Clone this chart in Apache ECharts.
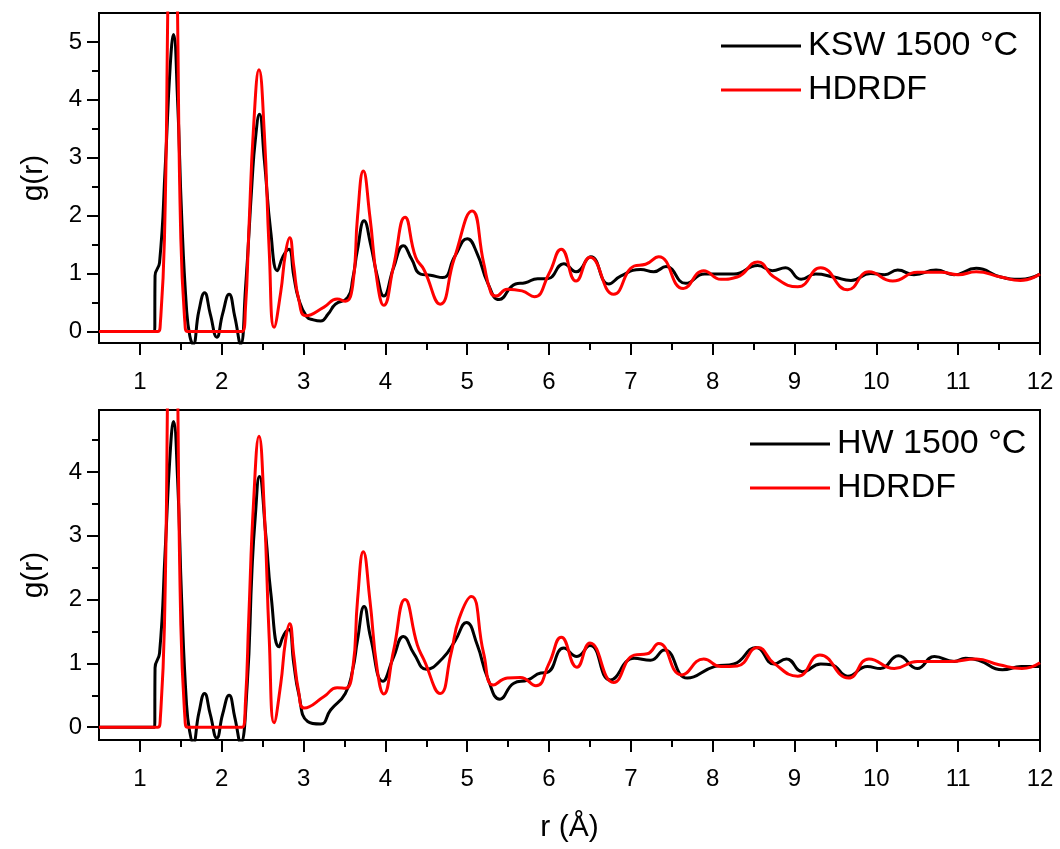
<!DOCTYPE html>
<html>
<head>
<meta charset="utf-8">
<script src="https://cdn.jsdelivr.net/npm/echarts@6/dist/echarts.min.js"></script>
<style>
html,body{margin:0;padding:0;background:#fff;}
#chart{width:1060px;height:849px;}
</style>
</head>
<body>
<div id="chart"></div>
<script>
// ---------- data (r in Å, g(r)) ----------
const xMajorTicks = [1,2,3,4,5,6,7,8,9,10,11,12];
const xMinorTicks = [1.5,2.5,3.5,4.5,5.5,6.5,7.5,8.5,9.5,10.5,11.5];
const yTopMajor = [0,1,2,3,4,5];
const yTopMinor = [0.5,1.5,2.5,3.5,4.5];
const yBotMajor = [0,1,2,3,4];
const yBotMinor = [0.5,1.5,2.5,3.5,4.5];

const topName = 'KSW 1500 °C';
const botName = 'HW 1500 °C';
const refName = 'HDRDF';

const topKSW = [[0.5,0],[1.17,0],[1.18,0],[1.185,0.96],[1.24,1.19],[1.31,2.86],[1.37,4.58],[1.41,5.13],[1.46,4.0],[1.51,2.0],[1.57,0.38],[1.61,-0.08],[1.65,-0.22],[1.72,0.35],[1.79,0.67],[1.86,0.3],[1.94,-0.1],[2.01,0.3],[2.09,0.64],[2.16,0.25],[2.23,-0.22],[2.29,0.73],[2.37,2.57],[2.41,3.3],[2.46,3.75],[2.52,2.97],[2.6,1.71],[2.68,1.05],[2.75,1.3],[2.82,1.42],[2.88,0.96],[2.94,0.56],[3.04,0.25],[3.12,0.2],[3.21,0.18],[3.3,0.3],[3.39,0.47],[3.54,0.59],[3.6,0.9],[3.66,1.42],[3.74,1.91],[3.82,1.5],[3.9,0.96],[3.98,0.61],[4.1,1.1],[4.22,1.48],[4.32,1.25],[4.43,0.99],[4.55,0.97],[4.7,0.93],[4.85,1.3],[5.0,1.6],[5.12,1.35],[5.25,0.84],[5.39,0.55],[5.59,0.82],[5.71,0.84],[5.86,0.91],[5.98,0.91],[6.18,1.17],[6.33,1.03],[6.51,1.29],[6.73,0.82],[6.88,0.96],[7.12,1.07],[7.28,1.03],[7.43,1.12],[7.67,0.83],[7.9,0.99],[8.1,0.99],[8.26,0.99],[8.55,1.14],[8.73,1.05],[8.89,1.10],[9.08,0.9],[9.26,0.99],[9.48,0.94],[9.69,0.88],[9.93,1.0],[10.1,0.98],[10.26,1.06],[10.46,0.98],[10.73,1.06],[10.95,0.98],[11.22,1.09],[11.52,0.94],[11.76,0.9],[12,0.99]];

const topHDRDF = [[0.5,0],[1.22,0],[1.25,0.15],[1.3,1.6],[1.34,5.5],[1.37,9.2],[1.40,11],[1.43,9.2],[1.46,5.5],[1.5,1.6],[1.55,0.15],[1.58,0],[2.25,0],[2.29,0.4],[2.33,1.7],[2.39,3.55],[2.455,4.52],[2.52,3.43],[2.58,1.4],[2.64,0.07],[2.72,0.67],[2.78,1.36],[2.83,1.62],[2.88,1.13],[2.94,0.56],[3.03,0.27],[3.25,0.42],[3.41,0.56],[3.51,0.52],[3.6,0.79],[3.66,1.99],[3.73,2.77],[3.81,1.99],[3.9,0.86],[3.98,0.45],[4.1,1.13],[4.24,1.97],[4.37,1.28],[4.47,1.07],[4.67,0.47],[4.84,1.25],[5.06,2.08],[5.2,1.19],[5.29,0.67],[5.35,0.61],[5.49,0.73],[5.67,0.7],[5.82,0.6],[6.0,1.0],[6.15,1.42],[6.33,0.87],[6.5,1.28],[6.79,0.64],[7.04,1.13],[7.18,1.16],[7.34,1.29],[7.64,0.74],[7.89,1.05],[8.1,0.9],[8.3,0.94],[8.55,1.2],[8.75,0.94],[9.04,0.77],[9.32,1.1],[9.65,0.72],[9.91,1.03],[10.2,0.87],[10.5,1.02],[10.79,1.02],[11.0,0.98],[11.22,1.03],[11.52,0.94],[11.76,0.88],[12,0.99]];

const botHW = [[0.5,0],[1.17,0],[1.18,0],[1.185,0.93],[1.24,1.16],[1.31,2.8],[1.37,4.3],[1.41,4.79],[1.46,3.9],[1.51,2.0],[1.57,0.35],[1.61,-0.08],[1.65,-0.25],[1.72,0.22],[1.79,0.53],[1.86,0.2],[1.94,-0.17],[2.01,0.2],[2.09,0.5],[2.16,0.15],[2.23,-0.25],[2.31,0.64],[2.37,2.47],[2.41,3.3],[2.46,3.93],[2.54,2.99],[2.6,2.1],[2.7,1.26],[2.76,1.45],[2.82,1.53],[2.88,1.0],[2.94,0.53],[3.05,0.09],[3.21,0.05],[3.33,0.27],[3.51,0.53],[3.6,0.9],[3.66,1.37],[3.74,1.89],[3.82,1.4],[3.97,0.72],[4.1,1.1],[4.22,1.42],[4.35,1.15],[4.5,0.91],[4.7,1.08],[4.85,1.35],[4.99,1.64],[5.12,1.3],[5.25,0.77],[5.4,0.44],[5.57,0.69],[5.74,0.74],[5.9,0.85],[5.98,0.86],[6.18,1.24],[6.34,1.11],[6.5,1.28],[6.75,0.74],[7.04,1.08],[7.24,1.05],[7.41,1.21],[7.69,0.77],[8.02,0.95],[8.26,0.99],[8.53,1.25],[8.75,0.99],[8.9,1.07],[9.1,0.87],[9.32,0.99],[9.45,0.98],[9.65,0.8],[9.89,0.95],[10.05,0.92],[10.27,1.12],[10.5,0.92],[10.71,1.11],[10.95,1.03],[11.09,1.08],[11.25,1.05],[11.54,0.9],[11.77,0.95],[12,0.95]];

const botHDRDF = [[0.5,0],[1.22,0],[1.25,0.15],[1.3,1.6],[1.34,5.5],[1.37,9.2],[1.40,11],[1.43,9.2],[1.46,5.5],[1.5,1.6],[1.55,0.15],[1.58,0],[2.25,0],[2.29,0.4],[2.33,1.7],[2.39,3.55],[2.455,4.56],[2.52,3.4],[2.58,1.4],[2.64,0.07],[2.72,0.67],[2.78,1.36],[2.83,1.62],[2.88,1.13],[2.94,0.56],[3.01,0.3],[3.25,0.48],[3.41,0.62],[3.51,0.61],[3.6,0.9],[3.66,2.0],[3.73,2.75],[3.81,2.0],[3.9,0.9],[3.98,0.52],[4.1,1.2],[4.24,2.0],[4.39,1.29],[4.47,1.06],[4.67,0.53],[4.8,1.14],[4.9,1.7],[5.05,2.05],[5.2,1.16],[5.32,0.66],[5.49,0.77],[5.65,0.78],[5.84,0.65],[6.0,1.0],[6.15,1.41],[6.34,0.94],[6.5,1.32],[6.79,0.7],[7.04,1.13],[7.2,1.15],[7.34,1.31],[7.62,0.82],[7.89,1.07],[8.1,0.95],[8.3,0.96],[8.55,1.25],[8.75,1.0],[9.04,0.8],[9.31,1.13],[9.66,0.77],[9.91,1.07],[10.22,0.92],[10.5,1.03],[10.9,1.03],[11.22,1.07],[11.5,0.98],[11.78,0.92],[12,1.01]];

// ---------- chart ----------
const FONT = '"Liberation Sans", Arial, sans-serif';
const chart = echarts.init(document.getElementById('chart'), null, {renderer:'canvas'});

const grids = [
  {left:99, top:13, width:941, height:330},
  {left:99, top:410, width:941, height:330}
];

function xAxes(gi, showName) {
  return [
    { type:'value', gridIndex:gi, min:0.5, max:12, position:'bottom',
      axisLine:{show:true, onZero:false, lineStyle:{color:'#000', width:2}},
      axisTick:{show:true, length:12, customValues:xMajorTicks, lineStyle:{color:'#000', width:2}},
      axisLabel:{show:true, customValues:xMajorTicks, margin:27, color:'#000', fontSize:24, fontFamily:FONT},
      splitLine:{show:false},
      name: showName ? 'r (Å)' : '', nameLocation:'middle', nameGap:73,
      nameTextStyle:{fontSize:30, color:'#000', fontFamily:FONT}
    },
    { type:'value', gridIndex:gi, min:0.5, max:12, position:'bottom',
      axisLine:{show:false, onZero:false},
      axisTick:{show:true, length:7, customValues:xMinorTicks, lineStyle:{color:'#000', width:2}},
      axisLabel:{show:false}, splitLine:{show:false}
    }
  ];
}
function yAxes(gi, min, max, major, minor) {
  return [
    { type:'value', gridIndex:gi, min:min, max:max, position:'left',
      axisLine:{show:true, onZero:false, lineStyle:{color:'#000', width:2}},
      axisTick:{show:true, length:12, customValues:major, lineStyle:{color:'#000', width:2}},
      axisLabel:{show:true, customValues:major, margin:17, color:'#000', fontSize:24, fontFamily:FONT},
      splitLine:{show:false},
      name:'g(r)', nameLocation:'middle', nameGap:50,
      nameTextStyle:{fontSize:30, color:'#000', fontFamily:FONT}
    },
    { type:'value', gridIndex:gi, min:min, max:max, position:'left',
      axisLine:{show:false, onZero:false},
      axisTick:{show:true, length:7, customValues:minor, lineStyle:{color:'#000', width:2}},
      axisLabel:{show:false}, splitLine:{show:false}
    }
  ];
}

function lineSeries(name, data, xi, yi, color) {
  return { type:'line', name:name, data:data, xAxisIndex:xi, yAxisIndex:yi,
    symbol:'none', showSymbol:false, smooth:0.5, clip:true, color:color,
    lineStyle:{color:color, width:3}, emphasis:{disabled:true}, animation:false };
}

function legendFor(names, left, top) {
  return { data:names.map(n => ({name:n, icon:'rect'})), orient:'vertical', left:left, top:top,
    itemWidth:80, itemHeight:3, itemGap:4,
    textStyle:{fontSize:34, lineHeight:40, color:'#000', fontFamily:FONT, padding:[0,0,0,2]},
    selectedMode:false };
}

const option = {
  backgroundColor:'#ffffff',
  animation:false,
  grid: grids.map(g => Object.assign({}, g, {show:true, borderColor:'#000', borderWidth:2, backgroundColor:'rgba(0,0,0,0)'})),
  xAxis: [].concat(xAxes(0,false), xAxes(1,true)),
  yAxis: [].concat(yAxes(0,-0.2,5.5,yTopMajor,yTopMinor), yAxes(1,-0.2,4.97,yBotMajor,yBotMinor)),
  legend: [
    legendFor([topName, refName], 716, 21),
    legendFor([botName, refName], 745, 419)
  ],
  series: [
    lineSeries(topName, topKSW, 0, 0, '#000000'),
    lineSeries(refName, topHDRDF, 0, 0, '#ff0000'),
    lineSeries(botName, botHW, 2, 2, '#000000'),
    lineSeries(refName, botHDRDF, 2, 2, '#ff0000')
  ]
};
chart.setOption(option);
</script>
</body>
</html>
